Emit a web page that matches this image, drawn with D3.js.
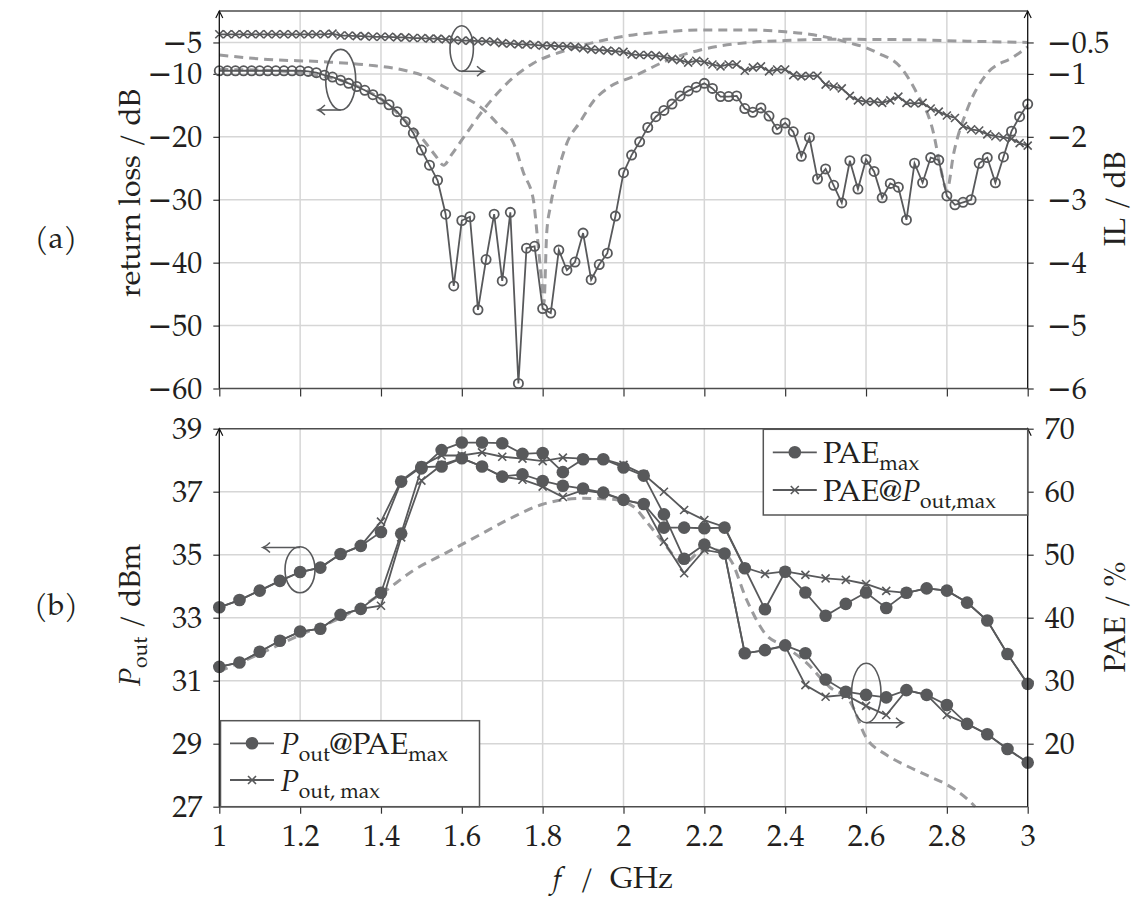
<!DOCTYPE html>
<html>
<head>
<meta charset="utf-8">
<script src="https://cdn.jsdelivr.net/npm/d3@7"></script>
<style>
  html, body { margin: 0; padding: 0; background: #fff; }
  svg { display: block; }
</style>
</head>
<body>
<svg id="chart" width="1136" height="906"></svg>
<script>
// ---------- data ----------
// frequency grids (GHz)
const fineFreq = d3.range(101).map(i => +(1 + i * 0.02).toFixed(2));
const coarseFreq = d3.range(41).map(i => +(1 + i * 0.05).toFixed(2));
const freqTicks = [1, 1.2, 1.4, 1.6, 1.8, 2, 2.2, 2.4, 2.6, 2.8, 3];

// (a) measured return loss (dB) and insertion loss (dB)
const returnLoss = [
  -9.5, -9.5, -9.5, -9.5, -9.5, -9.5, -9.5, -9.5, -9.5, -9.5,
  -9.5, -9.6, -9.8, -10.2, -10.5, -11.0, -11.5, -12.0, -12.6, -13.3,
  -14.0, -14.9, -16.0, -17.6, -19.4, -22.1, -24.5, -26.9, -32.3, -43.7,
  -33.3, -32.7, -47.5, -39.5, -32.3, -42.9, -32.0, -59.2, -37.7, -37.4,
  -47.3, -48.0, -38.0, -41.2, -39.9, -35.3, -42.7, -40.3, -38.5, -32.6,
  -25.7, -22.9, -20.8, -18.5, -16.8, -15.8, -14.8, -13.5, -12.7, -12.1,
  -11.5, -12.3, -13.6, -13.6, -13.5, -15.5, -16.1, -15.4, -16.7, -18.8,
  -17.8, -19.2, -23.1, -20.1, -26.7, -25.1, -27.7, -30.5, -23.8, -28.3,
  -23.6, -25.5, -29.7, -27.4, -28.0, -33.2, -24.2, -27.3, -23.3, -23.7,
  -29.4, -30.8, -30.4, -30.0, -24.2, -23.3, -27.3, -23.2, -19.1, -16.8,
  -14.8
];
const insertionLoss = [
  -0.37, -0.37, -0.37, -0.37, -0.37, -0.37, -0.37, -0.37, -0.37, -0.37,
  -0.37, -0.37, -0.37, -0.37, -0.36, -0.39, -0.39, -0.40, -0.40, -0.41,
  -0.41, -0.41, -0.42, -0.42, -0.43, -0.43, -0.44, -0.44, -0.45, -0.46,
  -0.47, -0.47, -0.48, -0.48, -0.49, -0.51, -0.52, -0.53, -0.53, -0.54,
  -0.55, -0.55, -0.56, -0.56, -0.57, -0.59, -0.61, -0.62, -0.63, -0.64,
  -0.65, -0.69, -0.70, -0.70, -0.71, -0.73, -0.76, -0.78, -0.82, -0.79,
  -0.81, -0.85, -0.88, -0.85, -0.85, -0.95, -0.90, -0.88, -0.96, -0.93,
  -0.93, -1.02, -1.04, -1.03, -1.03, -1.17, -1.20, -1.23, -1.35, -1.42,
  -1.44, -1.44, -1.46, -1.42, -1.36, -1.46, -1.47, -1.46, -1.55, -1.60,
  -1.66, -1.70, -1.83, -1.88, -1.90, -1.96, -1.99, -2.01, -2.03, -2.10,
  -2.14
];

// (a) simulated responses (dB)
const simAFreq = [1.0, 1.12, 1.25, 1.37, 1.47, 1.51, 1.555, 1.6, 1.645, 1.695,
  1.728, 1.753, 1.777, 1.786, 1.798, 1.803, 1.81, 1.819, 1.831, 1.86,
  1.893, 1.926, 1.967, 2.025, 2.11, 2.19, 2.31, 2.4, 2.52, 2.69, 2.85, 3.0];
const simAdB = [-7.0, -7.7, -8.05, -8.6, -9.6, -10.4, -12.0, -13.5, -15.2, -18.4,
  -21.0, -25.8, -30.0, -35.3, -43.3, -46.5, -35.3, -31.1, -27.4, -21.0,
  -17.6, -14.3, -12.0, -10.4, -7.8, -6.2, -5.0, -4.7, -4.5, -4.55, -4.8, -5.0];
const simBFreq = [1.0, 1.1, 1.2, 1.25, 1.3, 1.35, 1.4, 1.45, 1.505, 1.535,
  1.555, 1.575, 1.6, 1.65, 1.695, 1.72, 1.777, 1.86, 1.94, 2.024,
  2.107, 2.19, 2.31, 2.40, 2.46, 2.52, 2.56, 2.594, 2.63, 2.685,
  2.726, 2.767, 2.784, 2.80, 2.817, 2.85, 2.90, 2.965, 3.0];
const simBdB = [-9.3, -9.4, -9.8, -10.3, -11.0, -12.2, -14.0, -16.8, -20.5, -23.0,
  -24.5, -22.8, -20.5, -16.0, -12.6, -11.0, -8.3, -6.2, -4.8, -3.8,
  -3.3, -3.0, -3.0, -3.3, -3.7, -4.4, -5.1, -5.7, -6.7, -8.9,
  -13.1, -19.4, -24.8, -28.5, -22.6, -15.7, -9.9, -7.3, -5.7];

// (b) output power (dBm)
const poutAtPaeMax = [33.33, 33.56, 33.86, 34.17, 34.45, 34.59, 35.02, 35.28, 35.72, 37.32,
  37.78, 37.80, 38.06, 37.80, 37.48, 37.55, 37.34, 37.19, 37.10, 36.97,
  36.74, 36.61, 35.86, 35.86, 35.84, 35.86, 34.57, 33.27, 34.46, 33.80,
  33.06, 33.44, 33.80, 33.31, 33.79, 33.93, 33.86, 33.48, 32.91, 31.85,
  30.90];
const poutMax = [33.33, 33.56, 33.86, 34.17, 34.45, 34.59, 35.02, 35.28, 36.05, 37.35,
  37.82, 38.15, 38.15, 38.25, 38.11, 38.05, 37.97, 38.08, 38.05, 38.03,
  37.85, 37.55, 37.00, 36.42, 36.10, 35.88, 34.59, 34.39, 34.47, 34.36,
  34.25, 34.20, 34.07, 33.85, 33.79, 33.93, 33.86, 33.48, 32.91, 31.85,
  30.90];
// (b) power-added efficiency (%)
const paeMax = [32.2, 32.9, 34.6, 36.35, 37.8, 38.25, 40.45, 41.4, 43.95, 53.35,
  63.7, 66.6, 67.8, 67.8, 67.7, 66.0, 66.15, 63.1, 65.15, 65.15,
  63.85, 62.55, 56.4, 49.35, 51.6, 50.2, 34.35, 34.85, 35.6, 34.35,
  30.2, 28.25, 27.75, 27.35, 28.5, 27.75, 26.15, 23.15, 21.5, 19.15,
  17.0];
const paeAtPoutMax = [32.2, 32.9, 34.6, 36.35, 37.8, 38.25, 40.45, 41.4, 41.9, 52.75,
  61.75, 64.25, 65.3, 64.0, 62.4, 61.9, 60.8, 59.15, 60.25, 59.75,
  58.7, 58.0, 52.05, 47.05, 50.75, 50.2, 34.35, 34.85, 35.5, 29.3,
  27.45, 27.75, 26.0, 24.55, 28.5, 27.75, 24.55, 23.15, 21.5, 19.15,
  17.0];
// (b) simulated PAE (%)
const simPaeFreq = [1.0, 1.1, 1.2, 1.3, 1.4, 1.48, 1.56, 1.64, 1.72, 1.8,
  1.9, 1.97, 2.025, 2.06, 2.1, 2.15, 2.19, 2.23, 2.265, 2.305,
  2.35, 2.4, 2.45, 2.51, 2.56, 2.6, 2.65, 2.7, 2.75, 2.8, 2.85, 2.87];
const simPae = [31.5, 34.25, 37.25, 40.0, 43.75, 47.5, 50.25, 53.0, 55.75, 58.0,
  58.95, 58.8, 57.6, 55.0, 51.8, 48.65, 50.5, 50.75, 49.15, 42.8,
  37.5, 35.4, 33.0, 29.0, 26.75, 21.0, 18.25, 16.5, 15.0, 13.5, 11.25, 10.0];

// axis ticks
const rlTicks = [-60, -50, -40, -30, -20, -10, -5];
const ilTicks = [-6, -5, -4, -3, -2, -1, -0.5];
const poutTicks = [27, 29, 31, 33, 35, 37, 39];
const paeTicks = [20, 30, 40, 50, 60, 70];

// ---------- styles ----------
const INK = "#58595b";
const TEXT = "#231f20";
const GRID = "#d6d6d6";
const SIM = "#9b9b9d";
const FONT = 30;
const FAM = '"TeX Gyre Pagella", "Liberation Serif", serif';

const svg = d3.select("#chart");

// ---------- scales ----------
const x = d3.scaleLinear().domain([1, 3]).range([219.3, 1027.7]);
const yRL = d3.scaleLinear().domain([-60, 0]).range([388.5, 11]);
const yIL = d3.scaleLinear().domain([-6, 0]).range([388.5, 11]);
const yPout = d3.scaleLinear().domain([27, 39]).range([806.7, 428.7]);
const yPae = d3.scaleLinear().domain([10, 70]).range([806.7, 428.7]);

const fmt = d3.format("~g");

function label(sel) {
  return sel.style("font-family", FAM).style("font-size", FONT + "px").attr("fill", TEXT);
}

// tick labels; negative numbers get a long math-style minus sign
function styleAxis(g) {
  g.select(".domain").remove();
  g.selectAll(".tick line").attr("stroke", "#333").attr("stroke-width", 1.2);
  label(g.selectAll(".tick text")).each(function () {
    const t = d3.select(this);
    const s = t.text();
    if (s.startsWith("\u2212")) {
      t.text(null);
      t.append("tspan").style("font-family", '"DejaVu Serif", serif').style("font-weight", 300)
        .text("\u2212");
      t.append("tspan").text(s.slice(1));
    }
  });
}

function grid(g, yScale, yVals, y0, y1) {
  g.append("g").selectAll("line").data(freqTicks.slice(1, -1)).join("line")
    .attr("x1", d => x(d)).attr("x2", d => x(d)).attr("y1", y0).attr("y2", y1)
    .attr("stroke", GRID).attr("stroke-width", 1.5);
  g.append("g").selectAll("line").data(yVals).join("line")
    .attr("x1", x(1)).attr("x2", x(3)).attr("y1", d => yScale(d)).attr("y2", d => yScale(d))
    .attr("stroke", GRID).attr("stroke-width", 1.5);
}

function frame(g, yTop, yBot) {
  g.append("line").attr("x1", x(1)).attr("x2", x(3)).attr("y1", yTop).attr("y2", yTop)
    .attr("stroke", "#4d4d4d").attr("stroke-width", 1.5);
  g.append("line").attr("x1", x(1)).attr("x2", x(3)).attr("y1", yBot).attr("y2", yBot)
    .attr("stroke", "#4d4d4d").attr("stroke-width", 1.5);
  [x(1), x(3)].forEach(xx => {
    g.append("line").attr("x1", xx).attr("x2", xx).attr("y1", yBot).attr("y2", yTop)
      .attr("stroke", "#111").attr("stroke-width", 1.3);
    g.append("path").attr("d", `M${xx - 3.5},${yTop + 7}L${xx},${yTop}L${xx + 3.5},${yTop + 7}`)
      .attr("fill", "none").attr("stroke", "#111").attr("stroke-width", 1.2);
  });
}

function xMarkPath(cx, cy, s) {
  return `M${cx - s},${cy - s}L${cx + s},${cy + s}M${cx - s},${cy + s}L${cx + s},${cy - s}`;
}

function richText(t, parts) {
  let shift = 0;
  parts.forEach(p => {
    const ts = t.append("tspan").text(p.t);
    const target = p.sub ? 7 : 0;
    if (target !== shift) { ts.attr("dy", target - shift); shift = target; }
    if (p.sub) ts.style("font-size", "21px");
    if (p.it) ts.style("font-style", "italic");
    if (p.dx) ts.attr("dx", p.dx);
  });
}

function arrowLine(g, x1, y1, x2, y2) {
  g.append("line").attr("x1", x1).attr("y1", y1).attr("x2", x2).attr("y2", y2)
    .attr("stroke", INK).attr("stroke-width", 1.6);
  const dir = Math.sign(x2 - x1);
  g.append("path")
    .attr("d", `M${x2 - dir * 7},${y2 - 5}Q${x2 - dir * 3},${y2 - 1} ${x2},${y2}Q${x2 - dir * 3},${y2 + 1} ${x2 - dir * 7},${y2 + 5}`)
    .attr("fill", "none").attr("stroke", INK).attr("stroke-width", 1.5);
}

const simLine = (fx, fy) => d3.line().x(fx).y(fy).curve(d3.curveMonotoneX);

// =================== (a) ===================
const gTop = svg.append("g");
grid(gTop, yRL, rlTicks.slice(1), 11, 388.5);

gTop.append("g").attr("transform", "translate(219.3,0)")
  .call(d3.axisLeft(yRL).tickValues(rlTicks).tickSize(6).tickPadding(11).tickFormat(fmt))
  .call(styleAxis);
gTop.append("g").attr("transform", "translate(1027.7,0)")
  .call(d3.axisRight(yIL).tickValues(ilTicks).tickSize(6).tickPadding(13).tickFormat(fmt))
  .call(styleAxis);
gTop.append("g").attr("transform", "translate(0,388.5)")
  .call(d3.axisBottom(x).tickValues(freqTicks).tickSize(8).tickFormat(""))
  .call(styleAxis);

gTop.append("path").datum(simAFreq.map((f, i) => [f, simAdB[i]]))
  .attr("d", simLine(d => x(d[0]), d => yRL(d[1])))
  .attr("fill", "none").attr("stroke", SIM).attr("stroke-width", 3).attr("stroke-dasharray", "9,6");
gTop.append("path").datum(simBFreq.map((f, i) => [f, simBdB[i]]))
  .attr("d", simLine(d => x(d[0]), d => yRL(d[1])))
  .attr("fill", "none").attr("stroke", SIM).attr("stroke-width", 3).attr("stroke-dasharray", "9,6");

// insertion loss, right axis
const ilPts = fineFreq.map((f, i) => [x(f), yIL(insertionLoss[i])]);
gTop.append("path").datum(ilPts).attr("d", d3.line())
  .attr("fill", "none").attr("stroke", INK).attr("stroke-width", 1.8);
gTop.append("path").attr("d", ilPts.map(p => xMarkPath(p[0], p[1], 4)).join(""))
  .attr("fill", "none").attr("stroke", INK).attr("stroke-width", 1.6);

// return loss, left axis
const rlPts = fineFreq.map((f, i) => [x(f), yRL(returnLoss[i])]);
gTop.append("path").datum(rlPts).attr("d", d3.line())
  .attr("fill", "none").attr("stroke", INK).attr("stroke-width", 1.8);
gTop.append("g").selectAll("circle").data(rlPts).join("circle")
  .attr("cx", d => d[0]).attr("cy", d => d[1]).attr("r", 4.6)
  .attr("fill", "none").attr("stroke", INK).attr("stroke-width", 1.8);

frame(gTop, 11, 388.5);

// axis-assignment markers
gTop.append("ellipse").attr("cx", 340.7).attr("cy", 79.7).attr("rx", 15).attr("ry", 30.3)
  .attr("fill", "none").attr("stroke", INK).attr("stroke-width", 1.6);
arrowLine(gTop, 340.7, 110, 318, 110);
gTop.append("ellipse").attr("cx", 461.7).attr("cy", 48.5).attr("rx", 11.7).attr("ry", 22.8)
  .attr("fill", "none").attr("stroke", INK).attr("stroke-width", 1.6);
arrowLine(gTop, 461.7, 71.3, 484, 71.3);

// labels
label(svg.append("text")).attr("x", 56).attr("y", 248).attr("text-anchor", "middle").text("(a)");
label(svg.append("text")).attr("transform", "translate(140,193) rotate(-90)").attr("text-anchor", "middle")
  .text("return loss / dB");
label(svg.append("text")).attr("transform", "translate(1125,199) rotate(-90)").attr("text-anchor", "middle")
  .text("IL / dB");

// =================== (b) ===================
const gBot = svg.append("g");
grid(gBot, yPout, [29, 31, 33, 35, 37], 428.7, 806.7);

gBot.append("g").attr("transform", "translate(219.3,0)")
  .call(d3.axisLeft(yPout).tickValues(poutTicks).tickSize(6).tickPadding(11).tickFormat(fmt))
  .call(styleAxis);
gBot.append("g").attr("transform", "translate(1027.7,0)")
  .call(d3.axisRight(yPae).tickValues(paeTicks).tickSize(6).tickPadding(11).tickFormat(fmt))
  .call(styleAxis);
gBot.append("g").attr("transform", "translate(0,806.7)")
  .call(d3.axisBottom(x).tickValues(freqTicks).tickSize(7).tickPadding(11).tickFormat(fmt))
  .call(styleAxis);

gBot.append("path").datum(simPaeFreq.map((f, i) => [f, simPae[i]]))
  .attr("d", simLine(d => x(d[0]), d => yPae(d[1])))
  .attr("fill", "none").attr("stroke", SIM).attr("stroke-width", 3).attr("stroke-dasharray", "9,6");

const series = [
  { vals: paeAtPoutMax, y: yPae, mark: "x" },
  { vals: poutMax, y: yPout, mark: "x" },
  { vals: paeMax, y: yPae, mark: "o" },
  { vals: poutAtPaeMax, y: yPout, mark: "o" }
];
series.forEach(s => {
  const pts = coarseFreq.map((f, i) => [x(f), s.y(s.vals[i])]);
  gBot.append("path").datum(pts).attr("d", d3.line())
    .attr("fill", "none").attr("stroke", INK).attr("stroke-width", 1.8);
  s.pts = pts;
});
series.forEach(s => {
  if (s.mark === "x") {
    gBot.append("path").attr("d", s.pts.map(p => xMarkPath(p[0], p[1], 4)).join(""))
      .attr("fill", "none").attr("stroke", INK).attr("stroke-width", 1.6);
  } else {
    gBot.append("g").selectAll("circle").data(s.pts).join("circle")
      .attr("cx", d => d[0]).attr("cy", d => d[1]).attr("r", 6.3).attr("fill", INK);
  }
});

frame(gBot, 428.7, 806.7);

gBot.append("ellipse").attr("cx", 300).attr("cy", 569.7).attr("rx", 15).attr("ry", 23)
  .attr("fill", "none").attr("stroke", INK).attr("stroke-width", 1.6);
arrowLine(gBot, 300, 547.5, 263, 547.5);
gBot.append("ellipse").attr("cx", 866.3).attr("cy", 693).attr("rx", 14.7).attr("ry", 29.7)
  .attr("fill", "none").attr("stroke", INK).attr("stroke-width", 1.6);
arrowLine(gBot, 866.3, 722.7, 903, 722.7);

// legends
function legend(g, bx, by, bw, bh, entries) {
  g.append("rect").attr("x", bx).attr("y", by).attr("width", bw).attr("height", bh)
    .attr("fill", "#fff").attr("stroke", "#555").attr("stroke-width", 1.5);
  entries.forEach(e => {
    g.append("line").attr("x1", bx + 9.5).attr("x2", bx + 53.5).attr("y1", e.y).attr("y2", e.y)
      .attr("stroke", INK).attr("stroke-width", 1.8);
    if (e.mark === "o") {
      g.append("circle").attr("cx", bx + 31.5).attr("cy", e.y).attr("r", 6.3).attr("fill", INK);
    } else {
      g.append("path").attr("d", xMarkPath(bx + 31.5, e.y, 4))
        .attr("fill", "none").attr("stroke", INK).attr("stroke-width", 1.6);
    }
    const t = label(g.append("text")).attr("x", bx + 60).attr("y", e.y + 11);
    richText(t, e.parts);
  });
}
legend(gBot, 220.5, 720.7, 259, 86, [
  { y: 743.3, mark: "o", parts: [{ t: "P", it: true }, { t: "out", sub: true }, { t: "@PAE" }, { t: "max", sub: true }] },
  { y: 780, mark: "x", parts: [{ t: "P", it: true }, { t: "out, max", sub: true }] }
]);
legend(gBot, 763.3, 429.3, 264.4, 85.7, [
  { y: 452.3, mark: "o", parts: [{ t: "PAE" }, { t: "max", sub: true }] },
  { y: 490, mark: "x", parts: [{ t: "PAE@" }, { t: "P", it: true }, { t: "out,max", sub: true }] }
]);

// labels
label(svg.append("text")).attr("x", 56).attr("y", 615).attr("text-anchor", "middle").text("(b)");
const pl = label(svg.append("text")).attr("transform", "translate(140,615) rotate(-90)")
  .attr("text-anchor", "middle");
richText(pl, [{ t: "P", it: true }, { t: "out", sub: true }, { t: "/ dBm", dx: 8 }]);
label(svg.append("text")).attr("transform", "translate(1125,617) rotate(-90)").attr("text-anchor", "middle")
  .text("PAE / %");
const xl = label(svg.append("text")).attr("x", 613).attr("y", 888).attr("text-anchor", "middle");
richText(xl, [{ t: "f", it: true }, { t: "/", dx: 18 }, { t: "GHz", dx: 16 }]);
</script>
</body>
</html>
